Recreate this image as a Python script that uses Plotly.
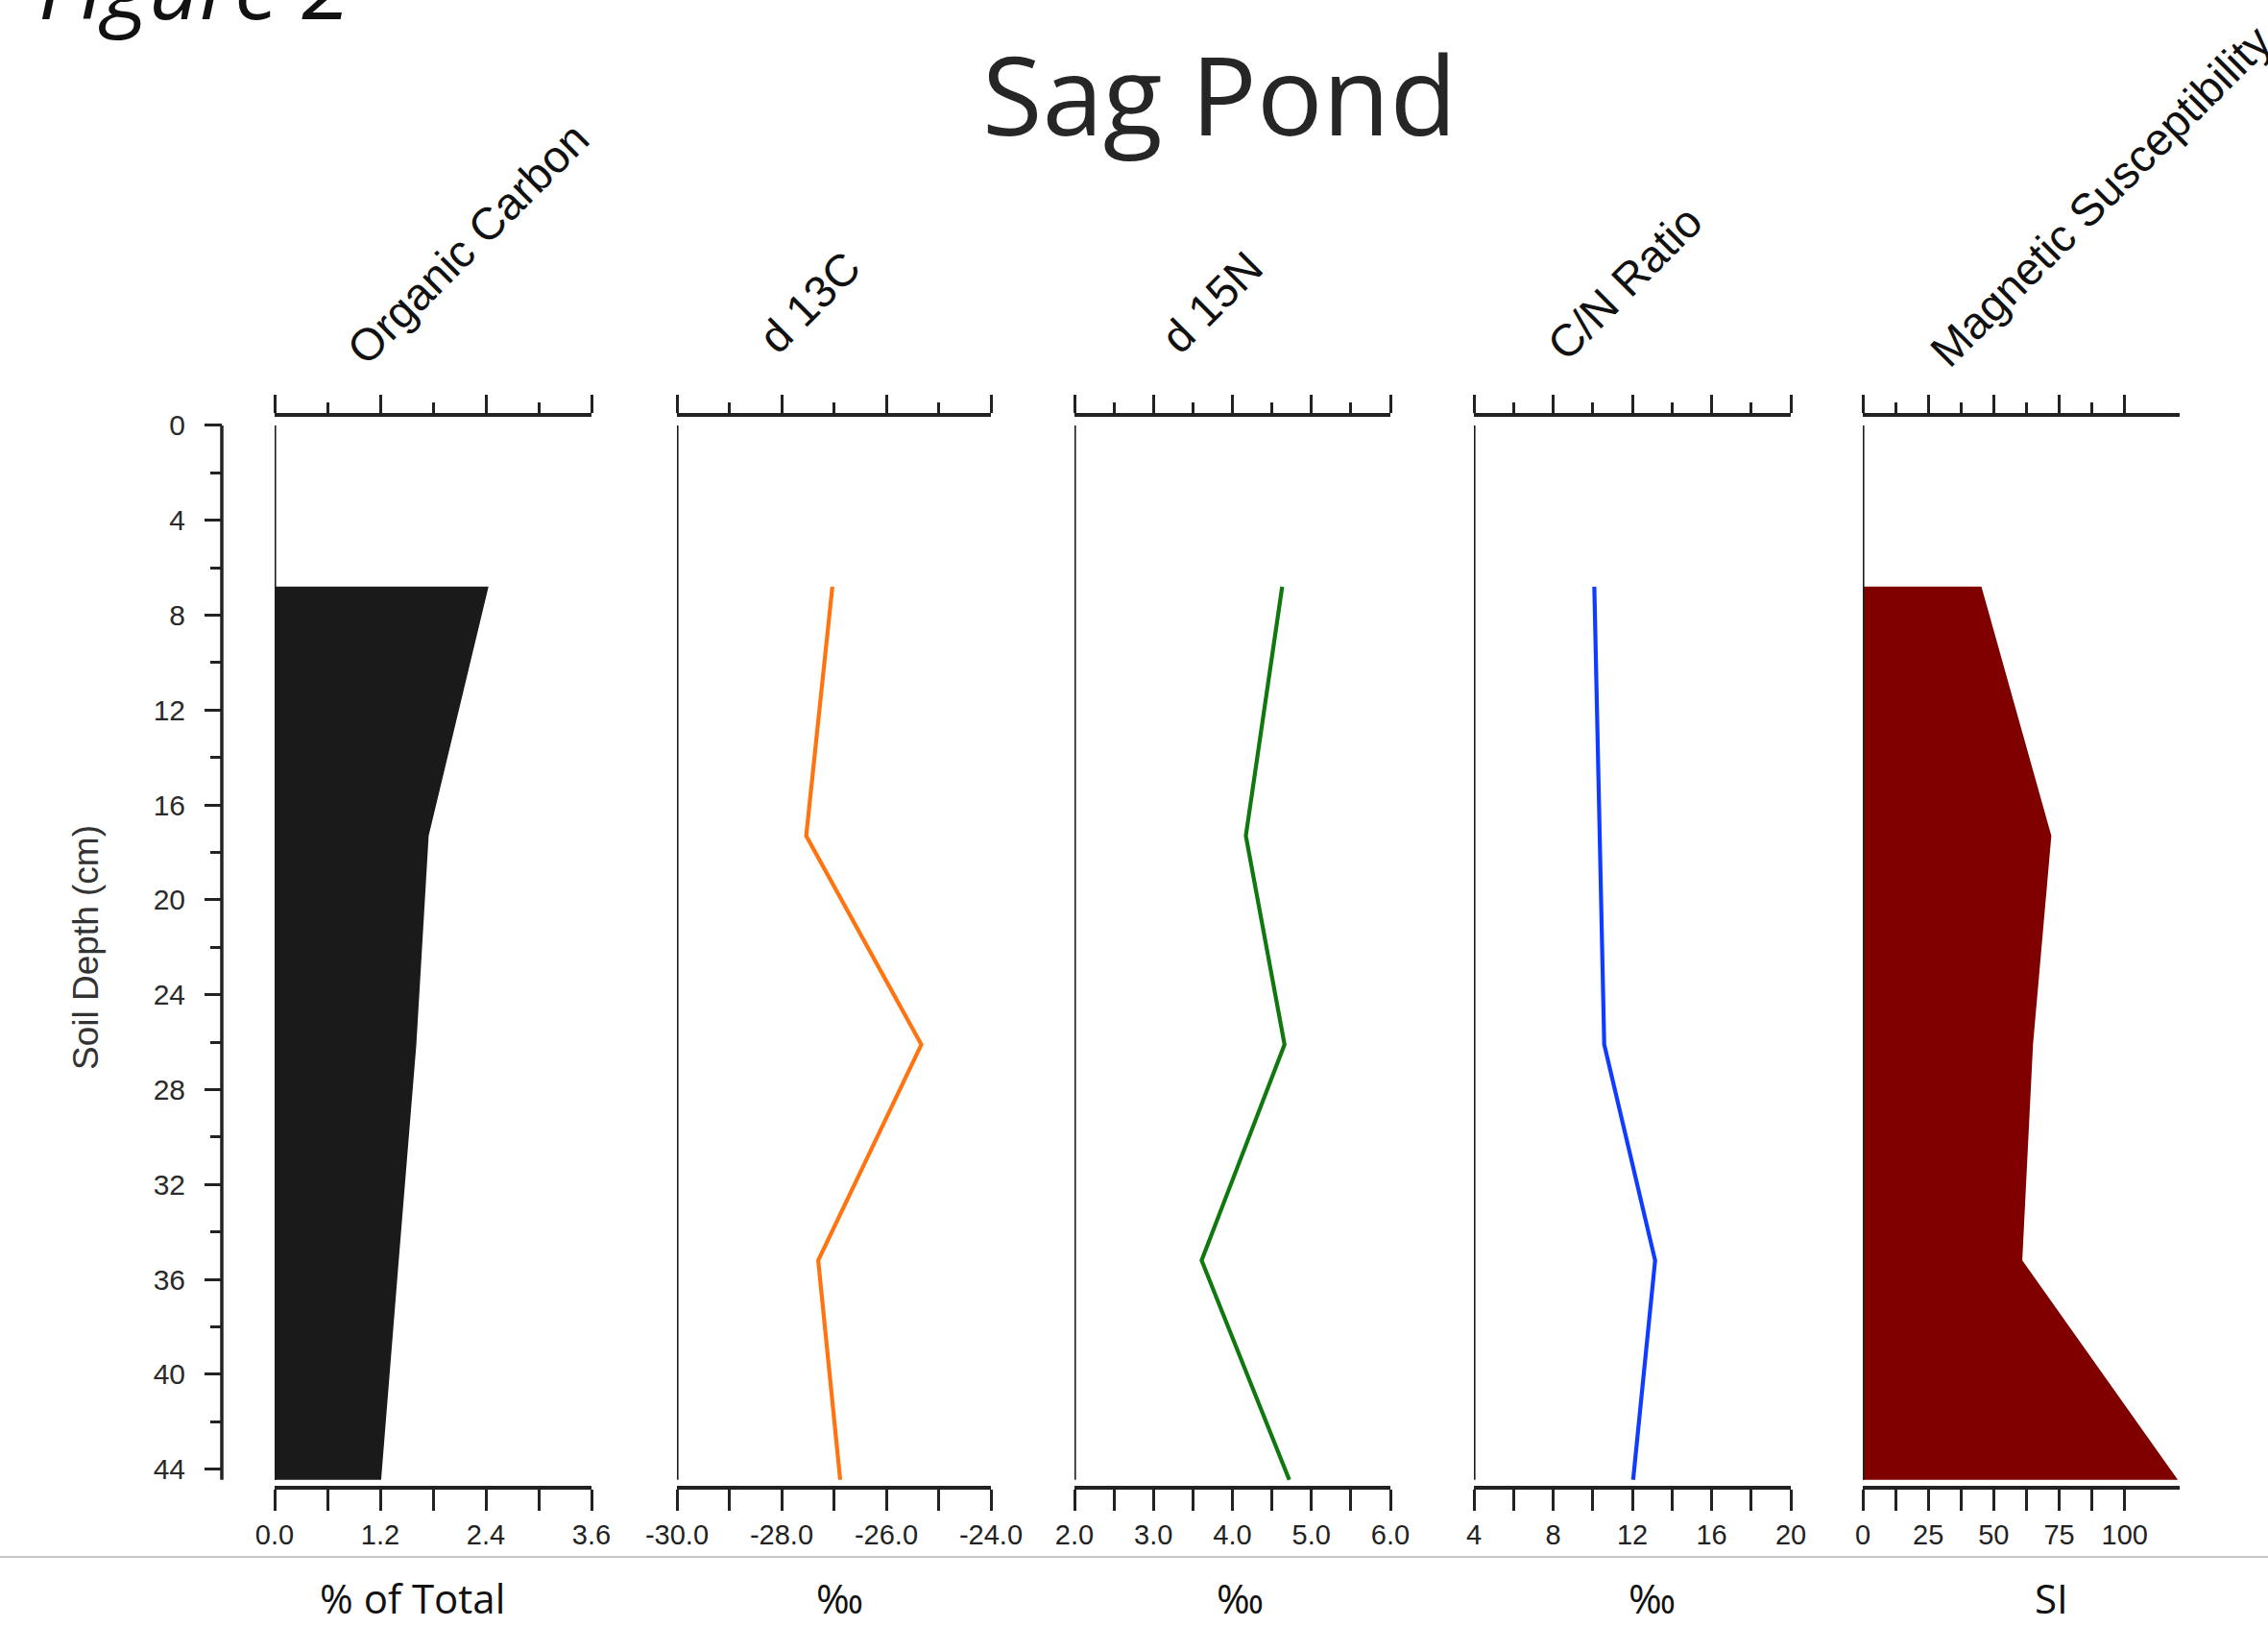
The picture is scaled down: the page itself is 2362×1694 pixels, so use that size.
import plotly.graph_objects as go

W, H = 2362, 1694

# ---------------- data ----------------
depth = [6.8, 17.3, 26.1, 35.2, 44.45]
organic_carbon = [2.43, 1.75, 1.61, 1.41, 1.21]
d13c = [-27.03, -27.53, -25.33, -27.30, -26.88]
d15n = [4.63, 4.17, 4.66, 3.61, 4.72]
cn_ratio = [10.08, 10.33, 10.58, 13.15, 12.04]
mag_sus = [45.3, 72.0, 65.0, 60.9, 120.3]

panel_titles = ["Organic Carbon", "d 13C", "d 15N", "C/N Ratio", "Magnetic Susceptibility"]
unit_labels = ["% of Total", "‰", "‰", "‰", "SI"]

x_ranges = [[0, 3.6], [-30, -24], [2, 6], [4, 20], [0, 121]]
bottom_tickvals = [
    [0, 0.6, 1.2, 1.8, 2.4, 3.0, 3.6],
    [-30, -29, -28, -27, -26, -25, -24],
    [2, 2.5, 3, 3.5, 4, 4.5, 5, 5.5, 6],
    [4, 6, 8, 10, 12, 14, 16, 18, 20],
    [0, 12.5, 25, 37.5, 50, 62.5, 75, 87.5, 100],
]
bottom_ticktext = [
    ["0.0", "", "1.2", "", "2.4", "", "3.6"],
    ["-30.0", "", "-28.0", "", "-26.0", "", "-24.0"],
    ["2.0", "", "3.0", "", "4.0", "", "5.0", "", "6.0"],
    ["4", "", "8", "", "12", "", "16", "", "20"],
    ["0", "", "25", "", "50", "", "75", "", "100"],
]
depth_ticks = [0, 4, 8, 12, 16, 20, 24, 28, 32, 36, 40, 44]
depth_minor = [2, 6, 10, 14, 18, 22, 26, 30, 34, 38, 42]
depth_range = [44.7, -0.36]
depth_axis_end = 44.45

# ---------------- layout geometry (pixels) ----------------
panel_px = [(286, 616), (705, 1032), (1119, 1448), (1535, 1865), (1940, 2270)]
plot_top_px, plot_bot_px = 434, 1547
ydom = [(H - plot_bot_px) / H, (H - plot_top_px) / H]
depth_axis_x = 231 / W

title_pos = [(369, 384), (798, 372), (1217, 372), (1619, 380), (2018, 386)]
unit_pos = [429, 874, 1291, 1720, 2136]

AX = "#222222"
fig = go.Figure()

series = [
    ("fill", organic_carbon, "#1a1a1a"),
    ("line", d13c, "#ff7410"),
    ("line", d15n, "#0f790f"),
    ("line", cn_ratio, "#0f3cff"),
    ("fill", mag_sus, "#800000"),
]

for i, (kind, vals, col) in enumerate(series):
    xa = "x" if i == 0 else f"x{i+1}"
    if kind == "fill":
        xs = [0] + list(vals) + [0]
        ys = [depth[0]] + list(depth) + [depth[-1]]
        fig.add_trace(go.Scatter(x=xs, y=ys, xaxis=xa, yaxis="y", mode="lines",
                                 fill="toself", fillcolor=col, line=dict(width=0, color=col),
                                 hoverinfo="skip", showlegend=False))
    else:
        fig.add_trace(go.Scatter(x=vals, y=depth, xaxis=xa, yaxis="y", mode="lines",
                                 line=dict(width=4.2, color=col), hoverinfo="skip", showlegend=False))
    # invisible copy so the top (overlaying) axis of the panel gets drawn
    fig.add_trace(go.Scatter(x=vals, y=depth, xaxis=f"x{i+6}", yaxis="y", mode="lines",
                             opacity=0, line=dict(width=0), hoverinfo="skip", showlegend=False))

layout = dict(
    template="none",
    width=W, height=H, margin=dict(l=0, r=0, t=0, b=0, autoexpand=False),
    paper_bgcolor="white", plot_bgcolor="rgba(0,0,0,0)", showlegend=False,
)

tickfont_bottom = dict(family="Liberation Sans Narrow, Arial Narrow, Liberation Sans, Arial",
                       size=29, color="#222")

shapes = []
annotations = []
for i in range(5):
    dom = [panel_px[i][0] / W, panel_px[i][1] / W]
    bname = "xaxis" if i == 0 else f"xaxis{i+1}"
    tname = f"xaxis{i+6}"
    blabel = "x" if i == 0 else f"x{i+1}"
    tv = bottom_tickvals[i]
    layout[bname] = dict(
        domain=dom, range=x_ranges[i], anchor="y", side="bottom", automargin=False,
        showgrid=False, zeroline=False, showline=True, linewidth=3.5, linecolor=AX,
        ticks="outside", ticklen=22, tickwidth=3, tickcolor=AX,
        tickmode="array", tickvals=tv, ticktext=bottom_ticktext[i],
        tickfont=tickfont_bottom, ticklabelstandoff=0,
    )
    major = tv[0::2]
    minor = tv[1::2]
    layout[tname] = dict(
        domain=dom, range=x_ranges[i], anchor="y", side="top", overlaying=blabel,
        automargin=False,
        showgrid=False, zeroline=False, showline=True, linewidth=3.5, linecolor=AX,
        ticks="outside", ticklen=19, tickwidth=3, tickcolor=AX,
        tickmode="array", tickvals=major, showticklabels=False,
        minor=dict(tickmode="array", tickvals=minor, ticks="outside", ticklen=11,
                   tickwidth=3, tickcolor=AX, showgrid=False),
    )
    # left vertical line of each panel
    shapes.append(dict(type="line", xref=blabel, yref="y",
                       x0=x_ranges[i][0], x1=x_ranges[i][0], y0=0, y1=depth_axis_end,
                       line=dict(color="#1e1e1e", width=3.2)))
    # rotated panel titles
    tx, ty = title_pos[i]
    annotations.append(dict(text=panel_titles[i], xref="paper", yref="paper",
                            x=(tx - 21) / W, y=1 - (ty + 8) / H, xanchor="left", yanchor="bottom",
                            textangle=-45, showarrow=False,
                            font=dict(family="Liberation Sans, Arial", size=47, color="#111")))
    annotations.append(dict(text=unit_labels[i], xref="paper", yref="paper",
                            x=unit_pos[i] / W, y=0, xanchor="center", yanchor="bottom",
                            showarrow=False,
                            font=dict(family="Open Sans, Noto Sans", size=42, color="#111")))

layout["yaxis"] = dict(
    domain=ydom, range=depth_range, anchor="free", position=depth_axis_x, automargin=False,
    showgrid=False, zeroline=False, showline=False,
    ticks="outside", ticklen=18, tickwidth=3, tickcolor=AX,
    tickmode="array", tickvals=depth_ticks,
    tickfont=dict(family="Liberation Sans, Arial", size=30, color="#2a2a2a"),
    ticklabelstandoff=14,
    minor=dict(tickmode="array", tickvals=depth_minor, ticks="outside", ticklen=12,
               tickwidth=3, tickcolor=AX, showgrid=False),
)

# depth axis line
shapes.append(dict(type="line", xref="paper", yref="y", x0=depth_axis_x, x1=depth_axis_x,
                   y0=0, y1=depth_axis_end, line=dict(color=AX, width=3.5)))
# bottom gray separator
shapes.append(dict(type="line", xref="paper", yref="paper", x0=0, x1=1,
                   y0=1 - 1621 / H, y1=1 - 1621 / H, line=dict(color="#c8c8c8", width=2)))

annotations.append(dict(text="Soil Depth (cm)", xref="paper", yref="paper",
                        x=90 / W, y=1 - 987 / H, xanchor="center", yanchor="middle",
                        textangle=-90, showarrow=False,
                        font=dict(family="Liberation Sans, Arial", size=37, color="#333")))
annotations.append(dict(text="Sag Pond", xref="paper", yref="paper",
                        x=1270 / W, y=1 - 96 / H, xanchor="center", yanchor="middle",
                        showarrow=False,
                        font=dict(family="Open Sans, Noto Sans", size=114, color="#262626")))
annotations.append(dict(text="<i>Figure 2</i>", xref="paper", yref="paper",
                        x=38 / W, y=1 - 49 / H, xanchor="left", yanchor="bottom",
                        showarrow=False,
                        font=dict(family="Open Sans, Noto Sans", size=92, color="#111")))

layout["shapes"] = shapes
layout["annotations"] = annotations
fig.update_layout(**layout)

fig.write_html("out.html", config={"displayModeBar": False},
               post_script="document.body.style.margin='0px';")
